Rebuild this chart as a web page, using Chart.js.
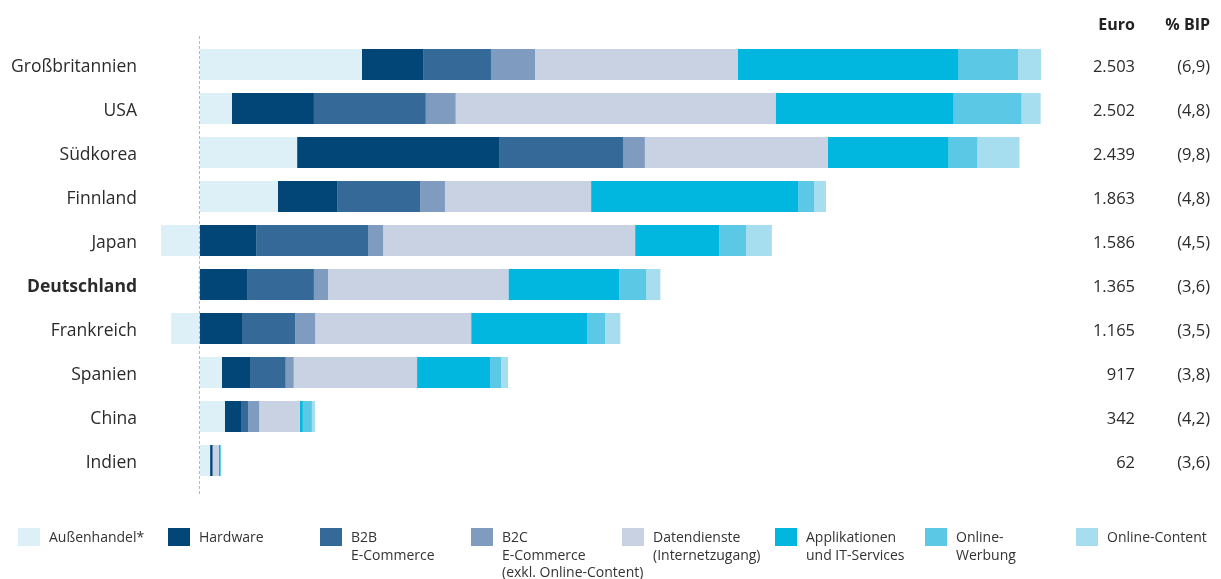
<!DOCTYPE html>
<html lang="de">
<head>
<meta charset="utf-8">
<title>Digitale Wirtschaft im Ländervergleich</title>
<script src="https://cdn.jsdelivr.net/npm/chart.js@4.4.1/dist/chart.umd.min.js"></script>
<style>
  html, body { margin: 0; padding: 0; background: #ffffff; }
  #wrap { position: relative; width: 1221px; height: 579px; font-family: "Open Sans", "Noto Sans", sans-serif; color: #2b2b2b; }
  #chart { position: absolute; left: 0; top: 0; }
  .legend-item { position: absolute; top: 528px; display: flex; align-items: flex-start; font-size: 14px; line-height: 17.5px; color: #333; }
  .legend-item .box { width: 22px; height: 18px; margin-right: 9px; flex: none; }
</style>
</head>
<body>
<div id="wrap">
  <canvas id="chart" width="1221" height="579"></canvas>
  <div id="legend"></div>
</div>
<script>
// Länder (Kategorien)
const countries = ['Großbritannien', 'USA', 'Südkorea', 'Finnland', 'Japan', 'Deutschland', 'Frankreich', 'Spanien', 'China', 'Indien'];

// Segmentwerte je Land in Euro pro Kopf
const aussenhandel  = [482,  95, 289, 232, -116,  -5, -86,  65,  74, 30];
const hardware      = [182, 244, 601, 176,  167, 140, 125,  86,  48,  6];
const b2b           = [202, 333, 369, 247,  333, 199, 158, 104,  21,  2];
const b2c           = [131,  89,  65,  74,   45,  42,  60,  24,  33,  1];
const datendienste  = [604, 952, 544, 435,  750, 537, 464, 367, 121, 17];
const applikationen = [655, 530, 360, 616,  250, 330, 345, 217,   9,  5];
const onlineWerbung = [179, 202,  86,  48,   80,  80,  54,  33,  27,  1];
const onlineContent = [ 68,  57, 125,  35,   77,  42,  45,  21,   9,  0];

// Summen (Euro) und Anteil am BIP
const euroTotals = [2503, 2502, 2439, 1863, 1586, 1365, 1165, 917, 342, 62];
const bipShare   = ['6,9', '4,8', '9,8', '4,8', '4,5', '3,6', '3,5', '3,8', '4,2', '3,6'];

// Legendentexte (mehrzeilig)
const seriesLabels = [
  ['Außenhandel*'],
  ['Hardware'],
  ['B2B', 'E-Commerce'],
  ['B2C', 'E-Commerce', '(exkl. Online-Content)'],
  ['Datendienste', '(Internetzugang)'],
  ['Applikationen', 'und IT-Services'],
  ['Online-', 'Werbung'],
  ['Online-Content']
];
const seriesValues = [aussenhandel, hardware, b2b, b2c, datendienste, applikationen, onlineWerbung, onlineContent];
const seriesColors = ['#ddf0f8', '#024678', '#356a98', '#7f9bbf', '#c8d2e2', '#02b7df', '#5bc8e6', '#a6def0'];

const highlight = 'Deutschland';
const fontFamily = '"Open Sans", "Noto Sans", sans-serif';

const datasets = seriesValues.map((vals, i) => ({
  label: seriesLabels[i].join(' '),
  data: vals,
  backgroundColor: seriesColors[i],
  borderWidth: 0,
  categoryPercentage: 1,
  barPercentage: 0.705
}));

// Nulllinie (gestrichelt) und rechte Wertespalten
const overlayPlugin = {
  id: 'overlay',
  afterDatasetsDraw(chart) {
    const { ctx, scales: { x, y } } = chart;
    const x0 = Math.round(x.getPixelForValue(0)) - 0.5;
    ctx.save();
    ctx.strokeStyle = '#b8b8b8';
    ctx.lineWidth = 1;
    ctx.setLineDash([3, 2]);
    ctx.beginPath();
    ctx.moveTo(x0, 36);
    ctx.lineTo(x0, 496);
    ctx.stroke();
    ctx.setLineDash([]);

    ctx.textAlign = 'right';
    ctx.textBaseline = 'middle';
    ctx.fillStyle = '#222';
    ctx.font = 'bold 16px ' + fontFamily;
    ctx.fillText('Euro', 1135, 25);
    ctx.fillText('% BIP', 1210, 25);

    ctx.font = '16.5px ' + fontFamily;
    ctx.fillStyle = '#2b2b2b';
    countries.forEach((c, i) => {
      const py = y.getPixelForValue(i);
      ctx.fillText(euroTotals[i].toLocaleString('de-DE'), 1135, py + 2.5);
      ctx.fillText('(' + bipShare[i] + ')', 1210, py + 2.5);
    });
    ctx.restore();
  }
};

new Chart(document.getElementById('chart'), {
  type: 'bar',
  data: { labels: countries, datasets },
  options: {
    responsive: false,
    animation: false,
    indexAxis: 'y',
    layout: { padding: { top: 42.5, bottom: 96.5, left: 0, right: 147.4 } },
    plugins: { legend: { display: false }, tooltip: { enabled: false } },
    scales: {
      x: {
        stacked: true,
        display: false,
        min: -178.6,
        max: 2600
      },
      y: {
        stacked: true,
        grid: { display: false, drawTicks: false },
        border: { display: false },
        afterFit(scale) { scale.width = 140; },
        ticks: {
          padding: 3,
          labelOffset: 3,
          color: '#2b2b2b',
          font: (ctx) => ({
            family: fontFamily,
            size: 17.5,
            weight: countries[ctx.index] === highlight ? 'bold' : 'normal'
          })
        }
      }
    }
  },
  plugins: [overlayPlugin]
});

// Legende
const legendLeft = [18, 168, 320, 471, 622, 775, 925, 1076];
const legend = document.getElementById('legend');
seriesLabels.forEach((lines, i) => {
  const item = document.createElement('div');
  item.className = 'legend-item';
  item.style.left = legendLeft[i] + 'px';
  const box = document.createElement('span');
  box.className = 'box';
  box.style.background = seriesColors[i];
  const text = document.createElement('span');
  text.innerHTML = lines.join('<br>');
  item.appendChild(box);
  item.appendChild(text);
  legend.appendChild(item);
});
</script>
</body>
</html>
